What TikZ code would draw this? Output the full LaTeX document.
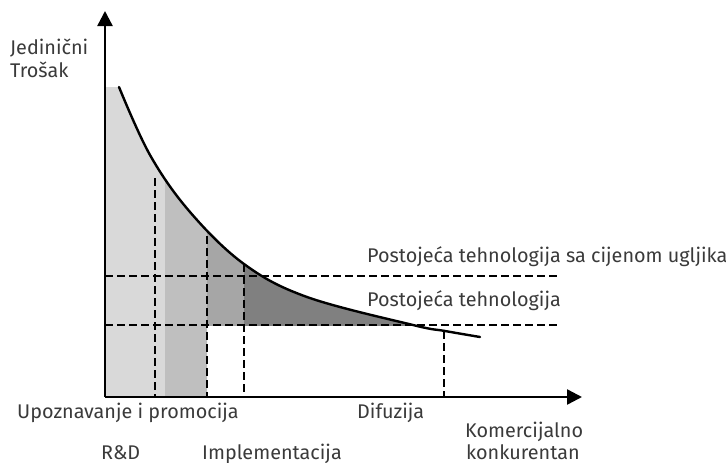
\documentclass[tikz,border=0pt]{standalone}
\usepackage{fontspec}
\setmainfont{Fira Sans}
\usetikzlibrary{arrows.meta}
\definecolor{txt}{HTML}{3A3A3A}
\definecolor{gA}{HTML}{D9D9D9}
\definecolor{gB}{HTML}{BFBFBF}
\definecolor{gC}{HTML}{A6A6A6}
\definecolor{gD}{HTML}{808080}
\tikzset{
  axis/.style={line width=2.4pt,-{Triangle[length=15pt,width=15pt]}},
  dashline/.style={line width=1.8pt,dash pattern=on 7.5pt off 4.5pt},
  curveline/.style={line width=2.4pt,line cap=round},
  lbl/.style={text=txt,font=\fontsize{19.8}{24}\selectfont,inner sep=0pt,anchor=base west}
}
\def\curvepts{(119,87) (150,155) (190,212) (244,264) (307,297) (413,325) (445,331) (480,337)}
\begin{document}
\begin{tikzpicture}[x=1pt,y=-1pt]
\useasboundingbox (0,0) rectangle (726,463);
% fills
\begin{scope}
  \clip (105,0) rectangle (165,397);
  \fill[gA] (105,87) -- plot[smooth,tension=0.6] coordinates{\curvepts} -- (480,397) -- (105,397) -- cycle;
\end{scope}
\begin{scope}
  \clip (165,0) rectangle (207,397);
  \fill[gB] (105,87) -- plot[smooth,tension=0.6] coordinates{\curvepts} -- (480,397) -- (105,397) -- cycle;
\end{scope}
\begin{scope}
  \clip (207,0) rectangle (244,325);
  \fill[gC] (105,87) -- plot[smooth,tension=0.6] coordinates{\curvepts} -- (480,397) -- (105,397) -- cycle;
\end{scope}
\begin{scope}
  \clip (244,0) rectangle (480,325);
  \fill[gD] (105,87) -- plot[smooth,tension=0.6] coordinates{\curvepts} -- (480,397) -- (105,397) -- cycle;
\end{scope}
% coordinates
\coordinate (O) at (105,397);
\coordinate (ytip) at (105,11);
\coordinate (xtip) at (582,397);
\coordinate (h1a) at (105,276);
\coordinate (h1b) at (557,276);
\coordinate (h2a) at (105,325);
\coordinate (h2b) at (557,325);
\coordinate (v1t) at (155,178);
\coordinate (v1b) at (155,397);
\coordinate (v2t) at (207,236);
\coordinate (v2b) at (207,397);
\coordinate (v3t) at (244,264);
\coordinate (v3b) at (244,397);
\coordinate (v4t) at (444,331);
\coordinate (v4b) at (444,397);
% dashed lines
\draw[dashline] (h1a) -- (h1b);
\draw[dashline] (h2a) -- (h2b);
\draw[dashline] (v1t) -- (v1b);
\draw[dashline] (v2t) -- (v2b);
\draw[dashline] (v3t) -- (v3b);
\draw[dashline] (v4t) -- (v4b);
% curve
\draw[curveline] plot[smooth,tension=0.6] coordinates{\curvepts};
% axes
\draw[axis] (O) -- (ytip);
\draw[axis] (O) -- (xtip);
% labels
\node[lbl] (ylab1) at (10,54) {Jedinični};
\node[lbl] (ylab2) at (10,77) {Trošak};
\node[lbl] (pc) at (367,262) {Postojeća tehnologija sa cijenom ugljika};
\node[lbl] (pt) at (367,306) {Postojeća tehnologija};
\node[lbl] (up) at (17,418) {Upoznavanje i promocija};
\node[lbl] (dif) at (357,418) {Difuzija};
\node[lbl] (rd) at (101,459) {R\&D};
\node[lbl] (imp) at (202,459) {Implementacija};
\node[lbl] (kom1) at (465,437) {Komercijalno};
\node[lbl] (kom2) at (466,459) {konkurentan};
\end{tikzpicture}
\end{document}
